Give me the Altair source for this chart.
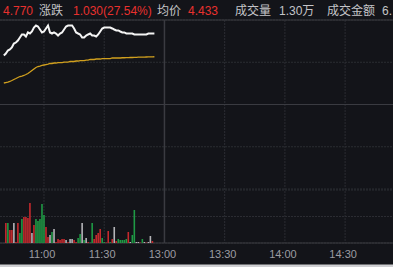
import altair as alt
import pandas as pd

# ---------------- data ----------------
minutes = list(range(70, 146))  # trading minutes since 9:30 (HK session, lunch removed)
price = [4.451, 4.480, 4.523, 4.538, 4.567, 4.625, 4.639, 4.668, 4.712, 4.756,
         4.756, 4.727, 4.785, 4.770, 4.799, 4.857, 4.886, 4.872, 4.828, 4.785,
         4.799, 4.843, 4.886, 4.785, 4.770, 4.785, 4.770, 4.741, 4.770, 4.785,
         4.828, 4.872, 4.886, 4.886, 4.886, 4.843, 4.785, 4.770, 4.756, 4.712,
         4.712, 4.741, 4.756, 4.770, 4.741, 4.741, 4.727, 4.756, 4.799, 4.843,
         4.857, 4.857, 4.857, 4.857, 4.843, 4.828, 4.814, 4.814, 4.799, 4.785,
         4.785, 4.770, 4.770, 4.770, 4.770, 4.756, 4.756, 4.756, 4.756, 4.756,
         4.756, 4.756, 4.770, 4.770, 4.770, 4.770]
avg = [4.052, 4.059, 4.066, 4.074, 4.088, 4.103, 4.117, 4.132, 4.146, 4.153,
       4.161, 4.175, 4.190, 4.211, 4.233, 4.255, 4.277, 4.291, 4.298, 4.306,
       4.313, 4.320, 4.327, 4.335, 4.335, 4.342, 4.342, 4.349, 4.349, 4.349,
       4.356, 4.356, 4.356, 4.364, 4.364, 4.364, 4.371, 4.371, 4.378, 4.378,
       4.378, 4.385, 4.385, 4.393, 4.393, 4.393, 4.400, 4.400, 4.400, 4.407,
       4.407, 4.407, 4.407, 4.407, 4.415, 4.415, 4.415, 4.415, 4.415, 4.418,
       4.418, 4.420, 4.420, 4.422, 4.422, 4.424, 4.424, 4.426, 4.426, 4.428,
       4.428, 4.429, 4.430, 4.431, 4.432, 4.433]

vol_minutes = list(range(71, 146))
volume = [200, 200, 130, 130, 200, 10, 200, 100, 240, 260,
          260, 250, 400, 100, 180, 240, 220, 240, 390, 280,
          160, 60, 80, 110, 140, 10, 40, 30, 40, 40,
          30, 10, 40, 40, 30, 10, 50, 90, 200, 30,
          50, 10, 5, 200, 40, 80, 100, 140, 50, 10,
          5, 120, 10, 40, 160, 20, 40, 30, 30, 30,
          40, 110, 10, 80, 330, 10, 10, 5, 40, 10,
          5, 10, 70, 20, 0]
vol_dir = ["dn", "up", "dn", "dn", "eq", "dn", "dn", "up", "up", "dn",
           "dn", "dn", "dn", "eq", "dn", "up", "up", "up", "up", "up",
           "dn", "dn", "eq", "up", "eq", "dn", "dn", "dn", "dn", "dn",
           "eq", "dn", "eq", "eq", "dn", "dn", "up", "up", "eq", "up",
           "eq", "dn", "up", "up", "dn", "dn", "dn", "dn", "up", "up",
           "dn", "dn", "up", "dn", "eq", "dn", "up", "up", "up", "up",
           "up", "dn", "eq", "up", "up", "eq", "eq", "dn", "up", "eq",
           "dn", "eq", "eq", "dn", "eq"]

prev_close = 3.740
price_grid = [4.966, 4.353, 2.514, 3.127]
vol_grid = [530, 265, 0]
time_ticks = [90, 120, 180, 210, 240]
session_tick = [150]
tick_minutes = [90, 120, 150, 180, 210, 240]
tick_labels = ["11:00", "11:30", "13:00", "13:30", "14:00", "14:30"]

header_texts = ["4.770", "涨跌", "1.030(27.54%)", "均价", "4.433",
                "成交量", "1.30万", "成交金额", "6."]
header_kinds = ["val", "lab", "val", "lab", "val", "lab", "lab2", "lab", "lab2"]

# ---------------- layout / style ----------------
W, H = 393, 267
BG = "#131419"
GRID = "#2b2c32"
STRONG = "#3a3b41"
FONT = "Liberation Sans, Noto Sans CJK SC, sans-serif"

xscale = alt.Scale(domain=[70.58, 261.36], range=[0, W], nice=False, zero=False)
pscale = alt.Scale(domain=[2.514, 4.966], range=[189, 20], nice=False, zero=False)
vscale = alt.Scale(domain=[0, 530], range=[243, 190], nice=False, zero=False)

price_df = pd.DataFrame({"m": minutes, "price": price, "avg": avg})
vol_df = pd.DataFrame({"m": vol_minutes, "vol": volume, "dir": vol_dir})

X = alt.X("m:Q", scale=xscale, axis=None)

# grids
pgrid = alt.Chart(pd.DataFrame({"p": price_grid})).mark_rule(
    color=GRID, strokeWidth=1, strokeDash=[2, 1]
).encode(y=alt.Y("p:Q", scale=pscale, axis=None), x=alt.value(0), x2=alt.value(W))

pmid = alt.Chart(pd.DataFrame({"p": [prev_close]})).mark_rule(
    color=STRONG, strokeWidth=1.2
).encode(y=alt.Y("p:Q", scale=pscale, axis=None), x=alt.value(0), x2=alt.value(W))

vgrid = alt.Chart(pd.DataFrame({"v": vol_grid})).mark_rule(
    color=GRID, strokeWidth=1, strokeDash=[2, 1]
).encode(y=alt.Y("v:Q", scale=vscale, axis=None), x=alt.value(0), x2=alt.value(W))

vbottom = alt.Chart(pd.DataFrame({"v": [0]})).mark_rule(
    color=STRONG, strokeWidth=1
).encode(y=alt.Y("v:Q", scale=vscale, axis=None), x=alt.value(0), x2=alt.value(W))

tgrid = alt.Chart(pd.DataFrame({"m": time_ticks})).mark_rule(
    color=GRID, strokeWidth=1, strokeDash=[2, 1]
).encode(x=X, y=alt.value(20), y2=alt.value(243))

tsession = alt.Chart(pd.DataFrame({"m": session_tick})).mark_rule(
    color=STRONG, strokeWidth=1.5
).encode(x=X, y=alt.value(20), y2=alt.value(243))

top_line = alt.Chart(pd.DataFrame({"a": [0]})).mark_rule(
    color=STRONG, strokeWidth=1
).encode(x=alt.value(0), x2=alt.value(W), y=alt.value(20))

bottom_strip = alt.Chart(pd.DataFrame({"a": [0]})).mark_rect(
    color="#cfcfd2"
).encode(x=alt.value(0), x2=alt.value(W), y=alt.value(264.5), y2=alt.value(H))

# volume bars
bars = alt.Chart(vol_df).mark_bar(size=1.6, clip=True).encode(
    x=X,
    y=alt.Y("vol:Q", scale=vscale, axis=None),
    y2=alt.datum(0),
    color=alt.Color("dir:N", scale=alt.Scale(domain=["up", "dn", "eq"],
                                             range=["#1f9a45", "#c62a2e", "#b4b4b8"]),
                    legend=None),
)

avg_line = alt.Chart(price_df).mark_line(color="#d1a01e", strokeWidth=1.3, clip=True).encode(
    x=X, y=alt.Y("avg:Q", scale=pscale, axis=None)
)
price_line = alt.Chart(price_df).mark_line(color="#f4f4f4", strokeWidth=2, clip=True).encode(
    x=X, y=alt.Y("price:Q", scale=pscale, axis=None)
)

# x tick labels
tick_df = pd.DataFrame({"m": tick_minutes, "label": tick_labels})
tick_text = alt.Chart(tick_df).mark_text(
    font=FONT, fontSize=11, color="#9c9ca2", baseline="alphabetic", align="center", dx=-2
).encode(x=X, y=alt.value(258), text="label:N")

# header
header_x = [3, 39, 73, 157, 188, 235, 279, 327, 382]
colors = {"val": "#e8312e", "lab": "#c4c4c8", "lab2": "#c4c4c8"}
header_layers = []
for t, k, hx in zip(header_texts, header_kinds, header_x):
    header_layers.append(
        alt.Chart(pd.DataFrame({"a": [0]})).mark_text(
            font=FONT, fontSize=12, color=colors[k], align="left", baseline="alphabetic"
        ).encode(x=alt.value(hx), y=alt.value(15), text=alt.value(t))
    )

chart = alt.layer(
    pgrid, vgrid, tgrid, pmid, tsession, top_line, vbottom,
    bars, avg_line, price_line, tick_text, bottom_strip, *header_layers
).resolve_scale(y="independent").properties(
    width=W, height=H, background=BG, padding=0,
    autosize=alt.AutoSizeParams(type="none")
).configure_view(stroke=None, fill=BG)

chart.save("out.html", embed_options={"renderer": "svg", "actions": False})
